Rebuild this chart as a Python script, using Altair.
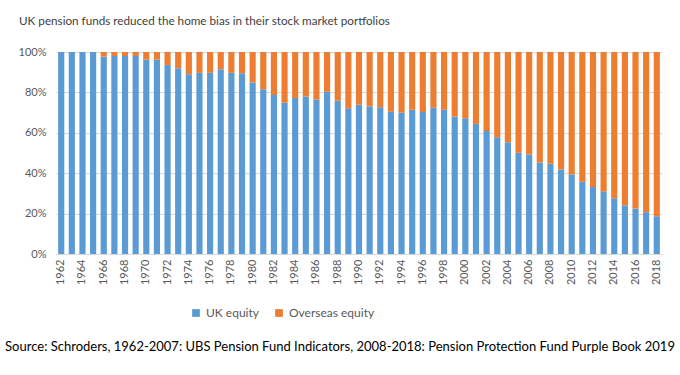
import altair as alt
import pandas as pd

years = list(range(1962, 2019))
uk_equity = [100, 100, 100, 100, 97.7, 98, 98, 98, 96.2, 96.2,
             93.6, 92, 89, 89.7, 89.7, 91.5, 89.7, 89.5, 84.9, 81.6,
             78.7, 74.9, 77.2, 78, 76.5, 80.3, 75.9, 72.1, 73.9, 73.2,
             72.6, 70.4, 70, 71.4, 70.3, 72.4, 71.4, 68, 67.2, 64.4,
             60.9, 57.8, 55.3, 50.1, 49.3, 45.3, 44.7, 41.9, 39.4, 35.8,
             33.2, 31.0, 27.6, 24.1, 22.5, 20.7, 18.7]
overseas_equity = [round(100 - v, 1) for v in uk_equity]
series = ["UK equity", "Overseas equity"]
colors = ["#5B9BD5", "#ED7D31"]

title_text = "UK pension funds reduced the home  bias in their stock market portfolios"
source_text = ("Source: Schroders, 1962-2007: UBS Pension Fund Indicators, 2008-2018: "
               "Pension Protection Fund Purple Book 2019")

rows = []
for y, u, o in zip(years, uk_equity, overseas_equity):
    rows.append({"year": y, "series": series[0], "share": u / 100, "ord": 0})
    rows.append({"year": y, "series": series[1], "share": o / 100, "ord": 1})
df = pd.DataFrame(rows)

FONT = "Lato"

bars = alt.Chart(df).mark_bar().encode(
    x=alt.X("year:O",
            scale=alt.Scale(paddingInner=0.42, paddingOuter=0.2),
            axis=alt.Axis(title=None, labelAngle=-90, values=years[::2],
                          labelFontSize=11, labelColor="#595959", labelFont=FONT,
                          ticks=False, domainColor="#D9D9D9", labelPadding=5)),
    y=alt.Y("share:Q", stack="zero",
            scale=alt.Scale(domain=[0, 1]),
            axis=alt.Axis(title=None, format=".0%", values=[0, 0.2, 0.4, 0.6, 0.8, 1.0],
                          labelFontSize=11, labelColor="#595959", labelFont=FONT,
                          ticks=False, domain=False, gridColor="#D9D9D9",
                          labelPadding=10)),
    color=alt.Color("series:N",
                    scale=alt.Scale(domain=series, range=colors),
                    legend=alt.Legend(title=None, orient="none", direction="horizontal",
                                      legendX=134, legendY=255,
                                      symbolType="square", symbolSize=60,
                                      labelFontSize=12, labelColor="#595959",
                                      labelFont=FONT, columnPadding=14)),
    order=alt.Order("ord:Q", sort="ascending"),
)

source = alt.Chart(pd.DataFrame({"t": [source_text]})).mark_text(
    fontSize=13, font=FONT, color="#000000", align="center", baseline="middle"
).encode(text="t:N", x=alt.value(284), y=alt.value(295))

title = alt.Chart(pd.DataFrame({"t": [title_text]})).mark_text(
    fontSize=11.7, font=FONT, color="#404040", align="left", baseline="middle"
).encode(text="t:N", x=alt.value(-37), y=alt.value(-31))

chart = alt.layer(bars, source, title).properties(
    width=606, height=202,
    autosize=alt.AutoSizeParams(type="none"),
    padding={"left": 56, "top": 52, "right": 18, "bottom": 121},
).configure_view(stroke=None)

chart.save("out.html", embed_options={"renderer": "svg", "actions": False})
